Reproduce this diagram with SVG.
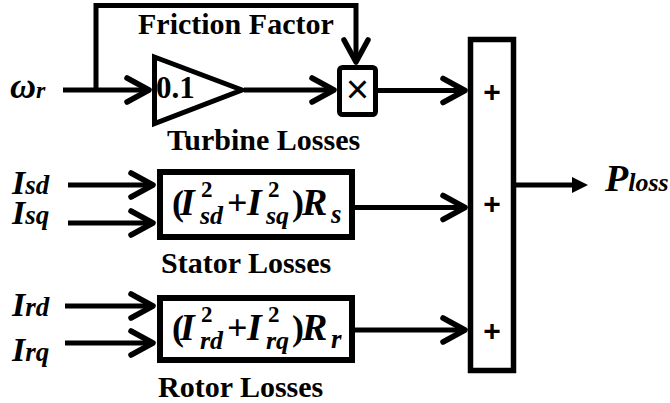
<svg xmlns="http://www.w3.org/2000/svg" width="670" height="403" viewBox="0 0 670 403">
<style>
.ln{fill:none;stroke:#000;stroke-width:5}
.bx{fill:#fff;stroke:#000;stroke-width:6}
.lbl{font-family:"Liberation Serif","Times New Roman",Tinos,serif;font-weight:bold;fill:#000}
.it{font-style:italic}
.pl{font-family:"Liberation Sans",Arial,sans-serif;font-weight:bold;font-size:30px;text-anchor:middle}
</style>
<defs>
<marker id="chev" markerUnits="userSpaceOnUse" markerWidth="40" markerHeight="40" viewBox="-30 -20 40 40" refX="0" refY="0" orient="auto" overflow="visible">
<path d="M-22,-12 L0,0 L-22,12" fill="none" stroke="#000" stroke-width="5.5" stroke-linecap="round" stroke-linejoin="round"/>
</marker>
<marker id="tri" markerUnits="userSpaceOnUse" markerWidth="30" markerHeight="30" viewBox="-5 -15 30 30" refX="0" refY="0" orient="auto" overflow="visible">
<path d="M0,-8 L16,0 L0,8 Z" fill="#000"/>
</marker>
</defs>

<g id="connectors">
<path class="ln" d="M63,90 H149" marker-end="url(#chev)"/>
<path class="ln" d="M96,92 V5.5 H356 V62" marker-end="url(#chev)"/>
<path class="ln" d="M244,90 H334" marker-end="url(#chev)"/>
<path class="ln" d="M377,90.5 H465" marker-end="url(#chev)"/>
<path class="ln" d="M68,185 H153" marker-end="url(#chev)"/>
<path class="ln" d="M68,223 H153" marker-end="url(#chev)"/>
<path class="ln" d="M65,306 H153" marker-end="url(#chev)"/>
<path class="ln" d="M65,343 H153" marker-end="url(#chev)"/>
<path class="ln" d="M355,207.5 H465" marker-end="url(#chev)"/>
<path class="ln" d="M355,330 H465" marker-end="url(#chev)"/>
<path class="ln" d="M514,185 H572" marker-end="url(#tri)"/>
</g>

<g id="wr">
<text class="lbl it" x="10" y="98"><tspan font-size="36">ω</tspan><tspan font-size="24">r</tspan></text>
</g>

<g id="friction-label">
<text class="lbl" x="138" y="34" font-size="30">Friction Factor</text>
</g>

<g id="gain">
<polygon points="154.5,57 154.5,123.5 242,90" fill="#fff" stroke="#000" stroke-width="5" stroke-linejoin="miter"/>
<text class="lbl" x="156" y="98" font-size="31">0.1</text>
<text class="lbl" x="167" y="150" font-size="30">Turbine Losses</text>
</g>

<g id="multiply">
<rect x="339.5" y="67.5" width="36" height="47" rx="3" fill="#fff" stroke="#000" stroke-width="5"/>
<text x="357.5" y="103" font-family="Liberation Sans, Arial, sans-serif" font-size="40" text-anchor="middle">×</text>
</g>

<g id="isd"><text class="lbl it" x="12" y="194"><tspan font-size="34">I</tspan><tspan font-size="27">sd</tspan></text></g>
<g id="isq"><text class="lbl it" x="12" y="224"><tspan font-size="34">I</tspan><tspan font-size="27">sq</tspan></text></g>
<g id="ird"><text class="lbl it" x="12" y="316"><tspan font-size="34">I</tspan><tspan font-size="27">rd</tspan></text></g>
<g id="irq"><text class="lbl it" x="12" y="361"><tspan font-size="34">I</tspan><tspan font-size="27">rq</tspan></text></g>

<g id="stator">
<rect class="bx" x="160" y="172" width="192" height="65"/>
<text class="lbl">
<tspan x="172" y="215" font-size="36">(</tspan><tspan class="it" x="180" y="215" font-size="38">I</tspan><tspan x="201" y="197" font-size="23">2</tspan><tspan class="it" x="200" y="224" font-size="26">sd</tspan><tspan x="227" y="215" font-size="36">+</tspan><tspan class="it" x="247" y="215" font-size="38">I</tspan><tspan x="268" y="197" font-size="23">2</tspan><tspan class="it" x="266" y="224" font-size="26">sq</tspan><tspan x="292" y="215" font-size="36">)</tspan><tspan class="it" x="302" y="215" font-size="38">R</tspan><tspan class="it" x="331" y="223" font-size="27">s</tspan>
</text>
<text class="lbl" x="161" y="273" font-size="30">Stator Losses</text>
</g>

<g id="rotor">
<rect class="bx" x="160" y="298" width="192" height="62"/>
<text class="lbl">
<tspan x="172" y="340" font-size="36">(</tspan><tspan class="it" x="180" y="340" font-size="38">I</tspan><tspan x="201" y="322" font-size="23">2</tspan><tspan class="it" x="200" y="349" font-size="26">rd</tspan><tspan x="227" y="340" font-size="36">+</tspan><tspan class="it" x="247" y="340" font-size="38">I</tspan><tspan x="268" y="322" font-size="23">2</tspan><tspan class="it" x="266" y="349" font-size="26">rq</tspan><tspan x="292" y="340" font-size="36">)</tspan><tspan class="it" x="302" y="340" font-size="38">R</tspan><tspan class="it" x="331" y="348" font-size="27">r</tspan>
</text>
<text class="lbl" x="158" y="397" font-size="30">Rotor Losses</text>
</g>

<g id="sum">
<rect x="470.5" y="39.5" width="43" height="331" fill="#fff" stroke="#000" stroke-width="5.5"/>
<text class="pl" x="492" y="102">+</text>
<text class="pl" x="492" y="214">+</text>
<text class="pl" x="492" y="341">+</text>
</g>

<g id="ploss">
<text class="lbl it" x="605" y="191"><tspan font-size="38">P</tspan><tspan font-size="26">loss</tspan></text>
</g>
</svg>
